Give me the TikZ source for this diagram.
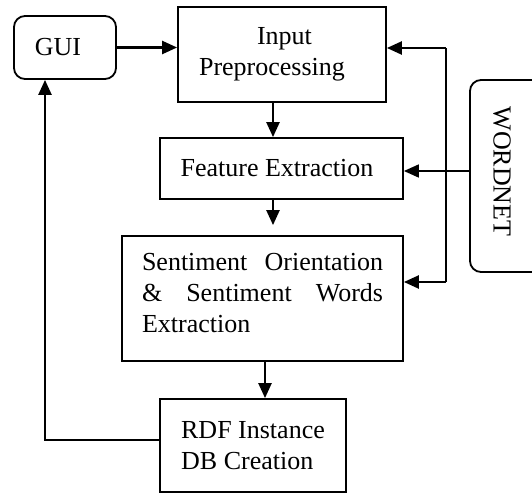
\documentclass[tikz,border=0pt]{standalone}
\usepackage{fontspec}
\setmainfont{Liberation Serif}
\usetikzlibrary{arrows.meta}
\begin{document}
\begin{tikzpicture}[x=1pt,y=-1pt,
  box/.style={draw,line width=1.8pt,inner sep=0pt,font=\fontsize{26}{31}\selectfont},
  rbox/.style={box,rounded corners=11pt},
  arr/.style={line width=2.4pt,-{Triangle[length=15pt,width=13pt]}},
  thinln/.style={line width=1.7pt}]
\useasboundingbox (0,0) rectangle (532,493);
\begin{scope}
\clip (0,0) rectangle (532,493);
\node[rbox,minimum width=102pt,minimum height=63pt] (gui) at (65,47.5) {GUI\hspace*{14pt}};
\node[box,minimum width=208pt,minimum height=95pt,align=left] (inp) at (282,54.5) {\hspace*{58pt}Input\\Preprocessing\hspace*{20pt}};
\node[box,minimum width=243pt,minimum height=61pt] (feat) at (281.5,168.5) {Feature Extraction\hspace*{9pt}};
\node[box,minimum width=281pt,minimum height=125pt,align=left] (sent) at (262.5,298.5) {\makebox[241pt][s]{Sentiment Orientation}\\\makebox[241pt][s]{\& Sentiment Words}\\Extraction\hspace*{133pt}\\[-19pt]};
\node[box,minimum width=186pt,minimum height=93pt,align=left] (rdf) at (253,445.5) {RDF Instance\\DB Creation};
\node[rbox,minimum width=82pt,minimum height=192pt] (wn) at (511,176) {};
\node[font=\fontsize{26}{31}\selectfont,rotate=-90] (wnt) at (502,171.5) {WORDNET};
\end{scope}
\coordinate (bt) at (446,48);
\coordinate (bb) at (446,282);
\draw[arr] (gui.east) -- (gui.east -| inp.west);
\draw[arr] ([xshift=-9pt]inp.south) -- ([xshift=-9pt]inp.south |- feat.north);
\draw[arr,shorten >=10pt] ([xshift=-8.5pt]feat.south) -- ([xshift=-8.5pt]feat.south |- sent.north);
\draw[arr] ([xshift=2.5pt]sent.south) -- ([xshift=2.5pt]sent.south |- rdf.north);
\draw[arr] ([yshift=5.5pt]rdf.west) -| ([xshift=-20pt]gui.south);
\draw[thinln] (bt) -- (bb);
\draw[arr] (bt) -- (bt -| inp.east);
\draw[arr] (bb) -- (bb -| sent.east);
\draw[thinln,-{Triangle[length=15pt,width=13pt]}] ([yshift=-2.5pt]wn.west |- feat.east) -- ([yshift=-2.5pt]feat.east);
\end{tikzpicture}
\end{document}
